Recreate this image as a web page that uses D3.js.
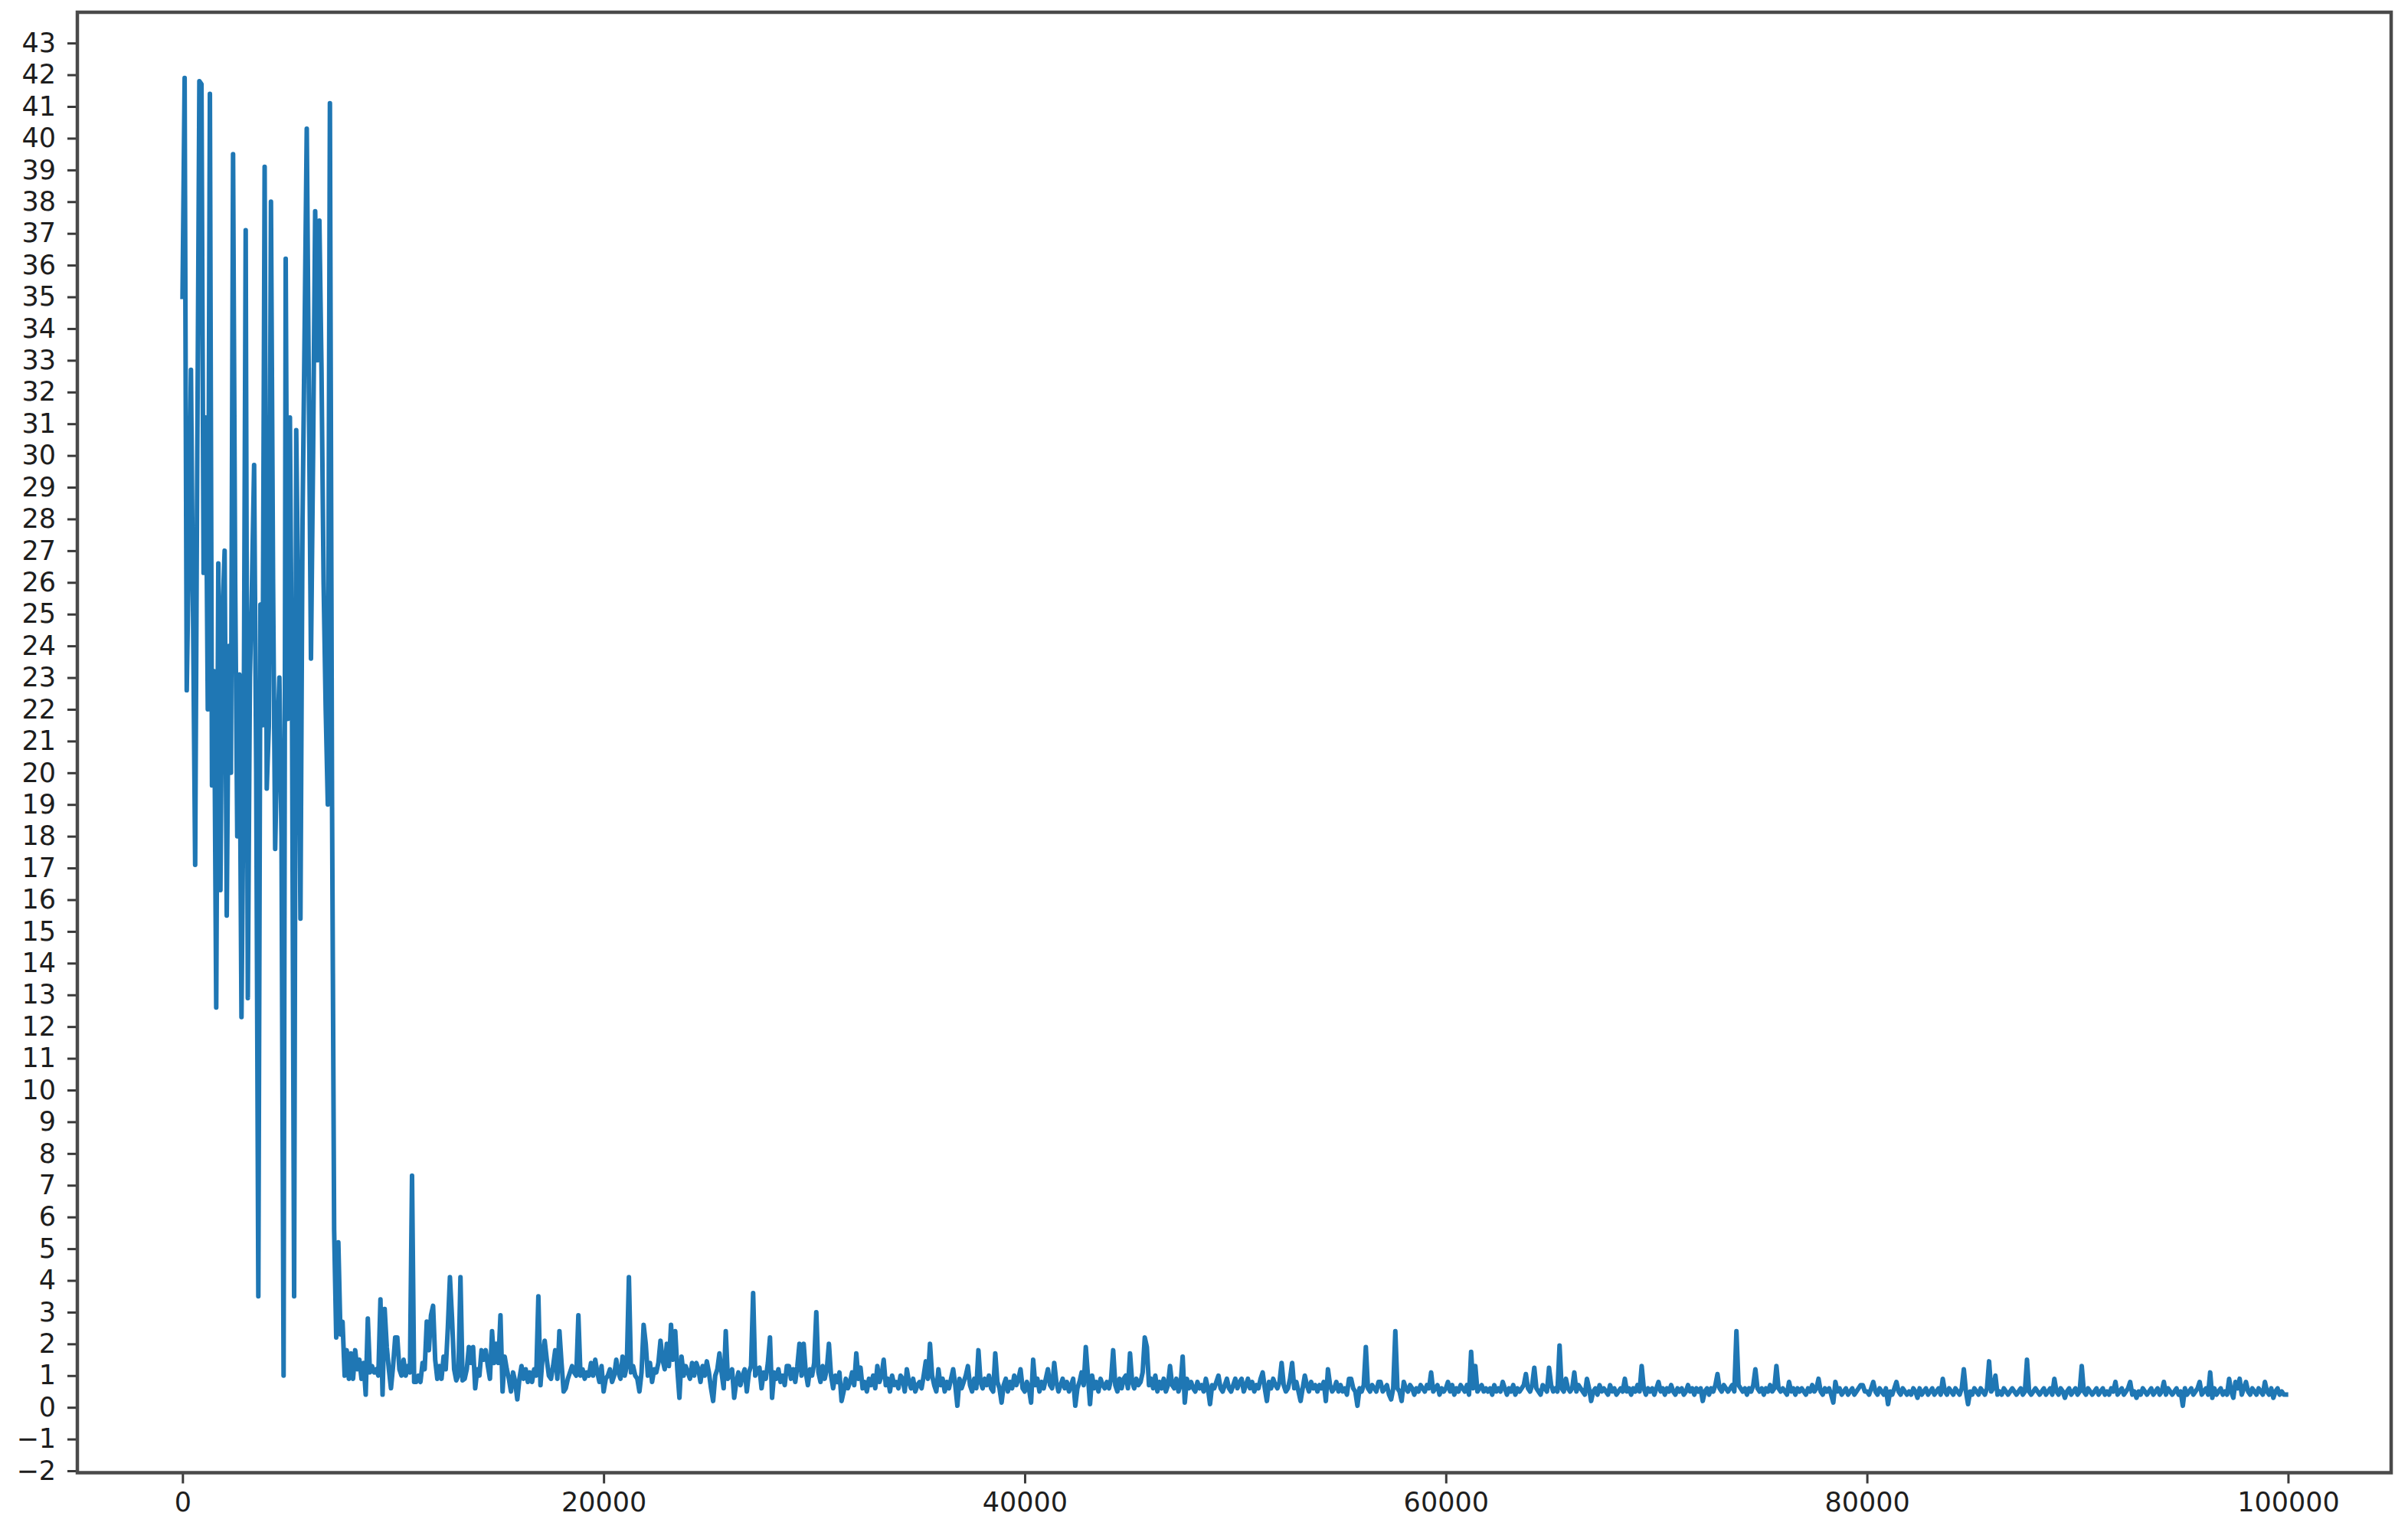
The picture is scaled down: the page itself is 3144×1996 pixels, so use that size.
<!DOCTYPE html>
<html>
<head>
<meta charset="utf-8">
<script src="https://cdn.jsdelivr.net/npm/d3@7"></script>
<style>
  html, body { margin: 0; padding: 0; background: #ffffff; }
  svg { display: block; }
</style>
</head>
<body>
<script>
// ---- data ----
const logInterval = 100; // one logged value every 100 steps
const loss = [
// 0
35.0, 41.9, 22.6, 27.0, 32.7, 25.0, 17.1, 30.0, 41.8, 41.7,
// 1000
26.3, 31.2, 22.0, 41.4, 19.6, 23.2, 12.6, 26.6, 16.3, 25.0,
// 2000
27.0, 15.5, 24.0, 20.0, 39.5, 26.0, 18.0, 23.1, 12.3, 20.0,
// 3000
37.1, 12.9, 23.0, 26.0, 29.7, 20.0, 3.5, 25.3, 21.5, 39.1,
// 4000
19.5, 21.5, 38.0, 26.0, 17.6, 21.0, 23.0, 18.0, 1.0, 36.2,
// 5000
21.7, 31.2, 22.0, 3.5, 30.8, 25.0, 15.4, 28.0, 34.0, 40.3,
// 6000
32.0, 23.6, 30.0, 37.7, 33.0, 37.4, 32.7, 26.0, 22.0, 19.0,
// 7000
41.1, 19.2, 5.6, 2.2, 5.2, 2.3, 2.7, 1.0, 1.8, 0.9,
// 8000
1.7, 0.9, 1.8, 1.2, 1.5, 0.9, 1.4, 0.4, 2.8, 1.1,
// 9000
1.3, 1.1, 1.2, 1.0, 3.4, 0.4, 3.1, 1.9, 1.2, 0.6,
// 10000
1.3, 2.2, 2.2, 1.2, 1.0, 1.5, 1.0, 1.3, 1.1, 7.3,
// 11000
0.8, 0.8, 1.0, 0.8, 1.4, 1.2, 2.7, 1.8, 2.9, 3.2,
// 12000
1.5, 0.9, 1.3, 0.9, 1.6, 1.2, 2.5, 4.1, 2.8, 1.2,
// 13000
0.85, 1.0, 4.1, 0.85, 0.9, 1.2, 1.9, 1.4, 1.9, 0.6,
// 14000
1.2, 1.0, 1.8, 1.5, 1.8, 1.3, 0.9, 2.4, 1.4, 2.0,
// 15000
1.4, 2.9, 0.5, 1.6, 1.2, 0.9, 0.5, 1.1, 0.8, 0.25,
// 16000
0.9, 1.3, 0.9, 1.2, 0.8, 1.1, 0.8, 1.2, 1.0, 3.5,
// 17000
0.7, 1.6, 2.1, 1.5, 1.0, 0.9, 1.3, 1.8, 0.9, 2.4,
// 18000
1.4, 0.5, 0.6, 0.9, 1.1, 1.3, 1.1, 1.0, 2.9, 1.0,
// 19000
1.2, 0.9, 1.1, 1.0, 1.4, 1.0, 1.5, 1.1, 0.8, 1.3,
// 20000
0.5, 0.9, 1.0, 1.2, 0.8, 1.0, 1.5, 1.1, 0.9, 1.6,
// 21000
1.0, 1.3, 4.1, 1.1, 1.3, 1.0, 0.9, 0.5, 1.1, 2.6,
// 22000
2.0, 1.0, 1.4, 0.8, 1.2, 1.1, 1.4, 2.1, 1.5, 1.2,
// 23000
2.0, 1.3, 2.6, 1.5, 2.4, 1.2, 0.3, 1.6, 1.0, 1.3,
// 24000
1.1, 0.9, 1.4, 1.0, 1.4, 1.2, 0.8, 1.3, 1.0, 1.45,
// 25000
1.1, 0.6, 0.2, 1.0, 1.2, 1.7, 1.1, 0.6, 2.4, 0.9,
// 26000
1.0, 1.2, 0.3, 0.8, 1.1, 0.7, 1.0, 1.2, 0.5, 1.1,
// 27000
1.3, 3.6, 1.0, 1.2, 1.25, 0.6, 1.1, 0.9, 1.4, 2.2,
// 28000
0.3, 1.1, 0.9, 1.2, 0.8, 1.0, 0.7, 1.3, 1.3, 0.9,
// 29000
1.2, 0.8, 1.3, 2.0, 1.0, 2.0, 1.1, 0.7, 1.2, 1.0,
// 30000
1.4, 3.0, 1.1, 0.8, 1.3, 0.9, 1.2, 2.0, 1.0, 0.6,
// 31000
1.0, 0.8, 1.1, 0.2, 0.5, 0.9, 0.6, 0.8, 1.1, 0.7,
// 32000
1.7, 0.9, 1.25, 0.6, 0.8, 0.5, 0.9, 0.7, 1.0, 0.6,
// 33000
1.3, 0.8, 1.0, 1.5, 0.7, 0.9, 0.5, 1.0, 0.7, 0.8,
// 34000
0.6, 1.0, 0.9, 0.5, 1.2, 0.8, 0.6, 0.9, 0.5, 0.7,
// 35000
0.8, 0.6, 1.0, 1.45, 0.9, 2.0, 1.0, 0.7, 0.5, 1.2,
// 36000
0.7, 0.9, 0.5, 0.8, 0.6, 0.9, 1.2, 0.7, 0.05, 0.9,
// 37000
0.6, 0.8, 1.0, 1.3, 0.7, 0.5, 0.9, 0.6, 1.8, 0.8,
// 38000
0.6, 0.9, 0.7, 1.0, 0.6, 0.5, 1.7, 0.8, 0.6, 0.15,
// 39000
0.7, 0.9, 0.5, 0.8, 0.6, 1.0, 0.7, 0.9, 1.2, 0.6,
// 40000
0.5, 0.8, 0.6, 0.15, 1.5, 0.7, 0.9, 0.5, 0.8, 0.6,
// 41000
0.9, 1.2, 0.7, 0.6, 1.4, 0.8, 0.5, 0.7, 0.9, 0.6,
// 42000
0.8, 0.5, 0.7, 0.9, 0.05, 0.6, 0.8, 1.1, 0.7, 1.9,
// 43000
1.0, 0.1, 1.0, 0.6, 0.8, 0.5, 0.9, 0.7, 0.6, 0.8,
// 44000
0.6, 0.9, 1.8, 0.7, 0.5, 0.9, 0.6, 0.9, 1.0, 0.6,
// 45000
1.7, 0.8, 0.6, 0.9, 0.7, 0.8, 1.1, 2.2, 1.9, 0.7,
// 46000
0.9, 0.6, 1.0, 0.5, 0.8, 0.6, 0.9, 0.5, 0.7, 1.3,
// 47000
0.7, 0.6, 0.9, 0.5, 0.7, 1.6, 0.15, 0.9, 0.6, 0.8,
// 48000
0.6, 0.5, 0.8, 0.6, 0.7, 0.5, 0.9, 0.6, 0.1, 0.7,
// 49000
0.6, 0.8, 1.0, 0.6, 0.5, 0.7, 0.9, 0.6, 0.5, 0.7,
// 50000
0.9, 0.6, 0.8, 0.9, 0.5, 0.7, 0.9, 0.6, 0.8, 0.5,
// 51000
0.7, 0.6, 0.9, 1.1, 0.6, 0.2, 0.8, 0.6, 0.9, 0.7,
// 52000
0.6, 0.8, 1.4, 0.7, 0.5, 0.6, 0.9, 1.4, 0.6, 0.8,
// 53000
0.5, 0.2, 0.6, 1.0, 0.7, 0.5, 0.8, 0.6, 0.7, 0.5,
// 54000
0.7, 0.6, 0.8, 0.2, 1.2, 0.7, 0.5, 0.6, 0.8, 0.5,
// 55000
0.7, 0.5, 0.6, 0.4, 0.9, 0.9, 0.6, 0.5, 0.05, 0.6,
// 56000
0.5, 0.7, 1.9, 0.6, 0.5, 0.7, 0.6, 0.5, 0.8, 0.8,
// 57000
0.5, 0.6, 0.7, 0.4, 0.25, 0.6, 2.4, 0.6, 0.5, 0.2,
// 58000
0.8, 0.6, 0.5, 0.7, 0.6, 0.4, 0.6, 0.5, 0.7, 0.6,
// 59000
0.5, 0.7, 0.6, 1.1, 0.5, 0.6, 0.7, 0.4, 0.6, 0.5,
// 60000
0.6, 0.8, 0.5, 0.7, 0.4, 0.6, 0.5, 0.7, 0.6, 0.5,
// 61000
0.7, 0.4, 1.75, 0.6, 1.3, 0.5, 0.6, 0.7, 0.5, 0.6,
// 62000
0.5, 0.6, 0.4, 0.7, 0.5, 0.6, 0.5, 0.8, 0.6, 0.4,
// 63000
0.6, 0.5, 0.7, 0.4, 0.6, 0.5, 0.6, 0.7, 1.05, 0.6,
// 64000
0.5, 0.7, 1.25, 0.6, 0.5, 0.4, 0.7, 0.6, 0.5, 1.25,
// 65000
0.7, 0.5, 0.6, 0.5, 1.95, 0.6, 0.5, 0.9, 0.6, 0.5,
// 66000
0.6, 1.1, 0.5, 0.7, 0.6, 0.5, 0.4, 0.9, 0.6, 0.2,
// 67000
0.5, 0.6, 0.4, 0.7, 0.5, 0.6, 0.5, 0.4, 0.7, 0.5,
// 68000
0.6, 0.4, 0.5, 0.6, 0.5, 0.9, 0.5, 0.6, 0.4, 0.6,
// 69000
0.5, 0.7, 0.5, 1.3, 0.6, 0.4, 0.6, 0.5, 0.6, 0.4,
// 70000
0.6, 0.8, 0.5, 0.6, 0.4, 0.6, 0.5, 0.7, 0.5, 0.4,
// 71000
0.6, 0.5, 0.6, 0.4, 0.5, 0.7, 0.5, 0.6, 0.4, 0.6,
// 72000
0.5, 0.6, 0.2, 0.5, 0.6, 0.4, 0.6, 0.5, 0.7, 1.05,
// 73000
0.6, 0.5, 0.7, 0.6, 0.5, 0.6, 0.7, 0.5, 2.4, 0.7,
// 74000
0.6, 0.5, 0.6, 0.4, 0.6, 0.5, 0.7, 1.2, 0.6, 0.5,
// 75000
0.6, 0.4, 0.6, 0.5, 0.7, 0.5, 0.6, 1.3, 0.6, 0.5,
// 76000
0.6, 0.5, 0.4, 0.8, 0.5, 0.6, 0.4, 0.6, 0.5, 0.6,
// 77000
0.5, 0.4, 0.6, 0.5, 0.7, 0.5, 0.6, 0.9, 0.5, 0.4,
// 78000
0.6, 0.5, 0.6, 0.4, 0.15, 0.8, 0.5, 0.6, 0.4, 0.5,
// 79000
0.6, 0.4, 0.5, 0.6, 0.4, 0.5, 0.6, 0.7, 0.7, 0.5,
// 80000
0.5, 0.4, 0.6, 0.8, 0.5, 0.4, 0.6, 0.5, 0.4, 0.6,
// 81000
0.1, 0.5, 0.4, 0.6, 0.8, 0.5, 0.4, 0.6, 0.5, 0.4,
// 82000
0.5, 0.4, 0.6, 0.5, 0.3, 0.6, 0.4, 0.5, 0.6, 0.4,
// 83000
0.5, 0.6, 0.4, 0.5, 0.6, 0.4, 0.9, 0.5, 0.4, 0.6,
// 84000
0.5, 0.4, 0.6, 0.5, 0.4, 0.6, 1.2, 0.5, 0.1, 0.5,
// 85000
0.4, 0.6, 0.5, 0.4, 0.6, 0.5, 0.4, 0.6, 1.45, 0.5,
// 86000
0.6, 1.0, 0.4, 0.5, 0.4, 0.6, 0.5, 0.4, 0.5, 0.6,
// 87000
0.5, 0.4, 0.5, 0.6, 0.4, 0.5, 1.5, 0.5, 0.4, 0.5,
// 88000
0.6, 0.5, 0.4, 0.5, 0.6, 0.4, 0.5, 0.6, 0.4, 0.9,
// 89000
0.5, 0.4, 0.6, 0.5, 0.3, 0.5, 0.6, 0.4, 0.5, 0.6,
// 90000
0.4, 0.5, 1.3, 0.5, 0.4, 0.6, 0.5, 0.4, 0.5, 0.6,
// 91000
0.4, 0.5, 0.6, 0.4, 0.5, 0.4, 0.6, 0.5, 0.8, 0.4,
// 92000
0.5, 0.6, 0.4, 0.5, 0.6, 0.8, 0.4, 0.5, 0.3, 0.5,
// 93000
0.4, 0.6, 0.5, 0.4, 0.5, 0.6, 0.4, 0.5, 0.6, 0.4,
// 94000
0.5, 0.8, 0.4, 0.6, 0.5, 0.4, 0.5, 0.6, 0.4, 0.5,
// 95000
0.05, 0.6, 0.4, 0.5, 0.6, 0.4, 0.5, 0.6, 0.8, 0.4,
// 96000
0.5, 0.6, 0.4, 1.1, 0.3, 0.6, 0.4, 0.5, 0.6, 0.4,
// 97000
0.5, 0.4, 0.9, 0.5, 0.3, 0.8, 0.6, 0.9, 0.4, 0.6,
// 98000
0.8, 0.5, 0.4, 0.6, 0.5, 0.4, 0.6, 0.5, 0.4, 0.8,
// 99000
0.5, 0.4, 0.6, 0.3, 0.5, 0.6, 0.4, 0.5, 0.4, 0.4
];

const xTickValues = [0, 20000, 40000, 60000, 80000, 100000];
const yTickValues = [-2, -1, 0, 1, 2, 3, 4, 5, 6, 7, 8, 9, 10, 11, 12, 13, 14, 15, 16, 17, 18, 19, 20,
                     21, 22, 23, 24, 25, 26, 27, 28, 29, 30, 31, 32, 33, 34, 35, 36, 37, 38, 39, 40, 41, 42, 43];

// ---- layout ----
const W = 3144, H = 1996;
const plot = { left: 101, right: 3122, top: 16, bottom: 1922.5 };
const FONT = "'DejaVu Sans', sans-serif";

const svg = d3.select("body").append("svg")
  .attr("width", W).attr("height", H)
  .attr("viewBox", `0 0 ${W} ${H}`);

svg.append("rect").attr("width", W).attr("height", H).attr("fill", "#ffffff");

const x = d3.scaleLinear().domain([-4995, 104895]).range([plot.left, plot.right]);
const y = d3.scaleLinear().domain([-2.06, 43.97]).range([plot.bottom, plot.top]);

// line
const line = d3.line()
  .x((d, i) => x(i * logInterval))
  .y(d => y(d));

svg.append("path")
  .datum(loss)
  .attr("d", line)
  .attr("fill", "none")
  .attr("stroke", "#1f77b4")
  .attr("stroke-width", 6)
  .attr("stroke-linejoin", "round")
  .attr("stroke-linecap", "square");

// axes
const xAxis = d3.axisBottom(x).tickValues(xTickValues).tickFormat(d3.format("d"))
  .tickSize(14).tickPadding(12);
const yAxis = d3.axisLeft(y).tickValues(yTickValues)
  .tickFormat(d => d < 0 ? "\u2212" + Math.abs(d) : String(d))
  .tickSize(13).tickPadding(15);

const gx = svg.append("g").attr("transform", `translate(0,${plot.bottom})`).call(xAxis);
const gy = svg.append("g").attr("transform", `translate(${plot.left},0)`).call(yAxis);

[gx, gy].forEach(g => {
  g.select(".domain").remove();
  g.selectAll(".tick line").attr("stroke", "#3a3a3a").attr("stroke-width", 3);
  g.selectAll(".tick text")
    .attr("fill", "#1e1e1e")
    .style("font-family", FONT)
    .style("font-size", "35px");
});

// frame (spines)
svg.append("rect")
  .attr("x", plot.left).attr("y", plot.top)
  .attr("width", plot.right - plot.left)
  .attr("height", plot.bottom - plot.top)
  .attr("fill", "none")
  .attr("stroke", "#4a4a4a")
  .attr("stroke-width", 4.5);
</script>
</body>
</html>
